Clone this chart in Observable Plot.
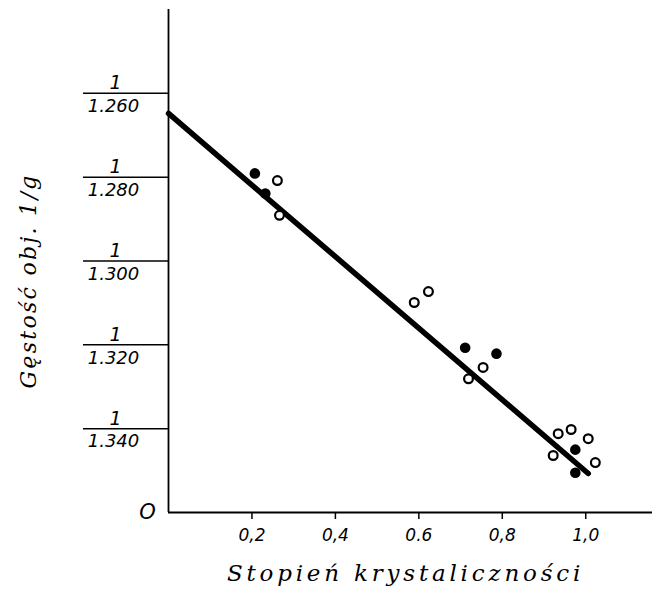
<!DOCTYPE html>
<html><head><meta charset="utf-8">
<script src="https://cdn.jsdelivr.net/npm/d3@7"></script>
<script src="https://cdn.jsdelivr.net/npm/@observablehq/plot@0.6"></script>
<style>body{margin:0;background:#fff}</style>
</head><body><div id="chart"></div>
<script>
// crystallinity degree (x) and density g (specific volume plotted as 1/g)
const crystX = [0.207, 0.261, 0.232, 0.266, 0.589, 0.623, 0.711, 0.786, 0.754, 0.719, 0.934, 0.965, 1.006, 0.975, 0.922, 1.023, 0.975];
const densityY = [1.2791, 1.2808, 1.2839, 1.2891, 1.3099, 1.3073, 1.3207, 1.3221, 1.3254, 1.3281, 1.3412, 1.3402, 1.3424, 1.3450, 1.3464, 1.3481, 1.3505];
const filledFlag = [true, false, true, false, false, false, true, true, false, false, false, false, false, true, false, false, true];
const fitX = [0, 1.006];
const fitY = [1.2648, 1.3507];
const yTicks = [1.26, 1.28, 1.30, 1.32, 1.34];
const yTickLabels = ["1.260", "1.280", "1.300", "1.320", "1.340"];
const xTicks = [0.2, 0.4, 0.6, 0.8, 1.0];
const xTickLabels = ["0,2", "0,4", "0.6", "0,8", "1,0"];
const xTitle = "Stopień krystaliczności";
const yTitle = "Gęstość obj. 1/g";

const pts = crystX.map((x, i) => ({x, y: densityY[i], filled: filledFlag[i]}));
const fit = fitX.map((x, i) => ({x, y: fitY[i]}));
const yt = yTicks.map((v, i) => ({y: v, label: yTickLabels[i]}));

const sans = "DejaVu Sans";
const serif = "DejaVu Serif";

const chart = Plot.plot({
  width: 656, height: 595,
  marginLeft: 168, marginRight: 4, marginTop: 9, marginBottom: 83,
  style: {background: "#fff", color: "#000"},
  x: {domain: [0, 1.16]},
  y: {domain: [1.24, 1.36], reverse: true},
  marks: [
    Plot.axisY({ticks: yTicks, tickSize: 85, tickFormat: () => "", label: null, strokeWidth: 1.5}),
    Plot.axisX({ticks: xTicks, tickSize: 7, tickPadding: 9, tickFormat: (d, i) => xTickLabels[i], label: null,
      fontSize: 17, fontFamily: sans, fontStyle: "italic", strokeWidth: 1.5}),
    Plot.ruleX([0], {y1: 1.24, y2: 1.36, strokeWidth: 1.8}),
    Plot.ruleY([1.36], {strokeWidth: 1.8}),
    Plot.text(yt, {y: "y", text: () => "1", frameAnchor: "left", textAnchor: "middle", dx: -53, dy: -10, fontSize: 19, fontFamily: sans, fontStyle: "italic"}),
    Plot.text(yt, {y: "y", text: "label", frameAnchor: "left", textAnchor: "middle", dx: -55, dy: 13, fontSize: 18, fontFamily: sans, fontStyle: "italic"}),
    Plot.text(["O"], {frameAnchor: "bottom-left", textAnchor: "middle", lineAnchor: "middle", dx: -21, dy: 0, fontSize: 21, fontFamily: sans, fontStyle: "italic"}),
    Plot.line(fit, {x: "x", y: "y", strokeWidth: 5.5, stroke: "#000"}),
    Plot.dot(pts.filter(d => d.filled), {x: "x", y: "y", r: 5.3, fill: "#000", stroke: "none"}),
    Plot.dot(pts.filter(d => !d.filled), {x: "x", y: "y", r: 4.4, fill: "#fff", stroke: "#000", strokeWidth: 2.2}),
    Plot.text([xTitle], {frameAnchor: "bottom", textAnchor: "middle", dx: -5, dy: 68, fontSize: 23, fontFamily: serif, fontStyle: "italic"}),
    Plot.text([yTitle], {frameAnchor: "left", textAnchor: "middle", rotate: -90, dx: -140, dy: 20, fontSize: 22, fontFamily: serif, fontStyle: "italic"})
  ]
});
// widen the letter spacing of the two axis titles, as in the original print
d3.select(chart).selectAll("text").each(function () {
  const t = this.textContent;
  if (t === xTitle) d3.select(this).attr("letter-spacing", "3.8px");
  if (t === yTitle) d3.select(this).attr("letter-spacing", "2.3px");
});
document.getElementById("chart").appendChild(chart);
</script>
</body></html>
